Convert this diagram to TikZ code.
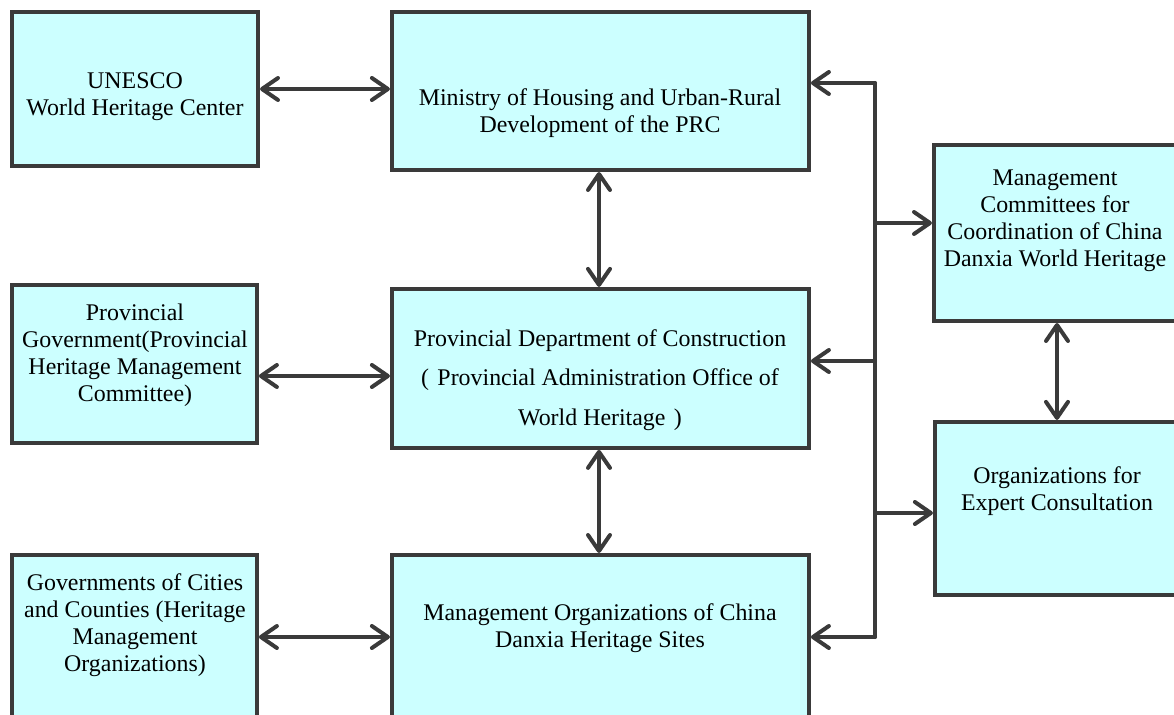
\documentclass[tikz,border=0pt]{standalone}
\usepackage{fontspec}
\setmainfont{Liberation Serif}
\usetikzlibrary{arrows.meta}
\definecolor{boxfill}{RGB}{204,255,255}
\definecolor{linegray}{RGB}{58,58,58}
\tikzset{
  box/.style={draw=linegray, fill=boxfill, line width=1mm, inner sep=0pt},
  txt/.style={align=center, font=\fontsize{17}{19.2}\selectfont},
  link/.style={draw=linegray, line width=1mm, line cap=round},
  barb/.tip={Straight Barb[length=4mm,width=5.5mm,round]},
  both/.style={link, barb-barb},
  one/.style={link, -barb}
}

\begin{document}
\begin{tikzpicture}
  \useasboundingbox (0,0) rectangle (29.35,-17.875);

  \node[box, minimum width=6.15cm, minimum height=3.85cm] (unesco) at (3.375,-2.225) {};
  \node[txt] at (3.375,-2.425) {UNESCO\\World Heritage Center};

  \node[box, minimum width=10.425cm, minimum height=3.95cm] (mohurd) at (15.01,-2.275) {};
  \node[txt] at (15.0,-2.825) {Ministry of Housing and Urban-Rural\\Development of the PRC};

  \node[box, minimum width=6.125cm, minimum height=3.95cm] (provgov) at (3.36,-9.1) {};
  \node[txt] at (3.375,-8.875) {Provincial\\Government(Provincial\\Heritage Management\\Committee)};

  \node[box, minimum width=10.425cm, minimum height=3.975cm] (provdept) at (15.01,-9.21) {};
  \node[txt, font=\fontsize{17}{28.3}\selectfont] at (15.0,-9.5)
    {Provincial Department of Construction\\(\hspace{0.35em}Provincial Administration Office of\\World Heritage\hspace{0.35em})};

  \node[box, minimum width=6.125cm, minimum height=4.25cm] (cities) at (3.36,-16.0) {};
  \node[txt] at (3.375,-15.625) {Governments of Cities\\and Counties (Heritage\\Management\\Organizations)};

  \node[box, minimum width=10.425cm, minimum height=4.25cm] (sites) at (15.01,-16.0) {};
  \node[txt] at (15.0,-15.7) {Management Organizations of China\\Danxia Heritage Sites};

  \node[box, minimum width=6.4cm, minimum height=4.4cm] (committee) at (26.55,-5.825) {};
  \node[txt] at (26.375,-5.525) {Management\\Committees for\\Coordination of China\\Danxia World Heritage};

  \node[box, minimum width=6.375cm, minimum height=4.325cm] (expert) at (26.56,-12.71) {};
  \node[txt] at (26.425,-12.275) {Organizations for\\Expert Consultation};

  \draw[both] (unesco.east |- 0,-2.225) -- (mohurd.west |- 0,-2.225);
  \draw[both] (provgov.east |- 0,-9.4) -- (provdept.west |- 0,-9.4);
  \draw[both] (cities.east |- 0,-15.925) -- (sites.west |- 0,-15.925);
  \draw[both] (mohurd.south -| 14.975,0) -- (provdept.north -| 14.975,0);
  \draw[both] (provdept.south -| 14.975,0) -- (sites.north -| 14.975,0);
  \draw[both] (committee.south -| 26.425,0) -- (expert.north -| 26.425,0);

  \coordinate (bustop) at (21.875,-2.075);
  \coordinate (busmid) at (21.875,-9.025);
  \coordinate (busbot) at (21.875,-15.925);
  \draw[link] (bustop) -- (busbot);
  \draw[one] (bustop) -- (mohurd.east |- bustop);
  \draw[one] (busmid) -- (provdept.east |- busmid);
  \draw[one] (busbot) -- (sites.east |- busbot);
  \draw[one] (21.875,-5.575) -- (committee.west |- 0,-5.575);
  \draw[one] (21.875,-12.825) -- (expert.west |- 0,-12.825);
\end{tikzpicture}
\end{document}
